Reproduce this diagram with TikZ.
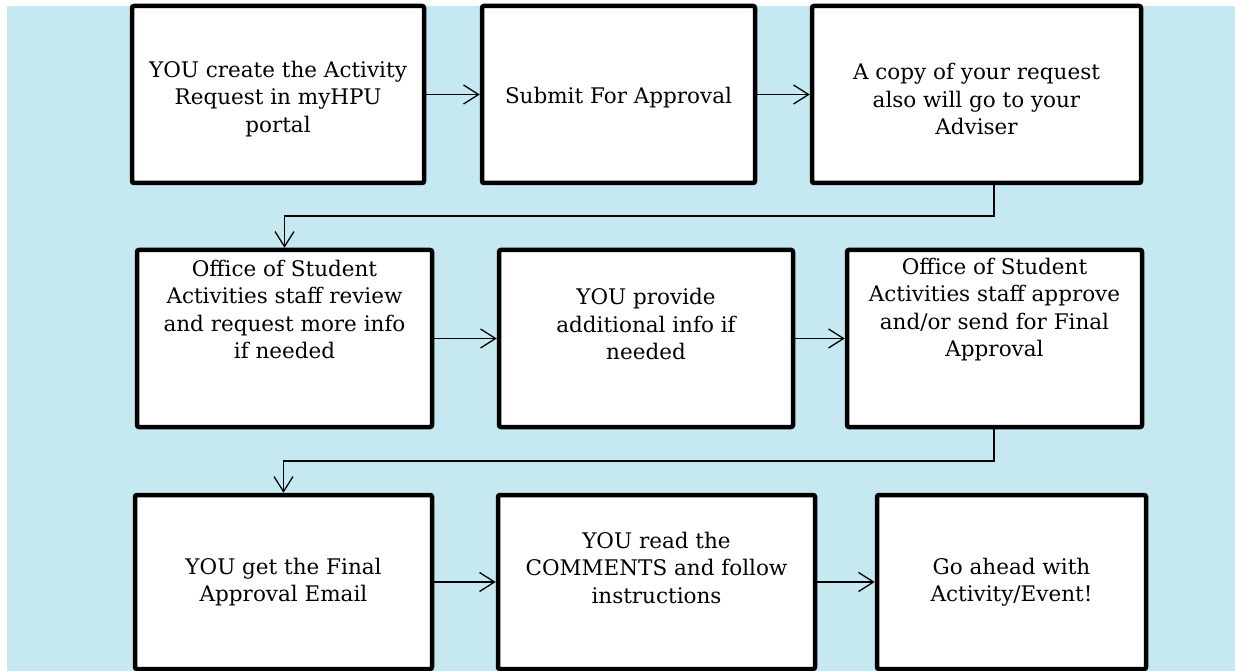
\documentclass[tikz,border=0pt]{standalone}
\usepackage{fontspec}
\setmainfont{DejaVu Serif}
\usetikzlibrary{arrows.meta}
\definecolor{bgblue}{RGB}{198,233,241}
\tikzset{
    stepbox/.style={draw, fill=white, line width=4.5pt, rounded corners=2pt},
    steptext/.style={align=center, inner sep=0pt, font=\fontsize{21.5}{27.5}\selectfont},
    flow/.style={line width=1.3pt, -{Straight Barb[length=15pt, width=19pt, line width=1.3pt]}}
}
\begin{document}
\begin{tikzpicture}[x=1pt, y=-1pt]
                \useasboundingbox (0,0) rectangle (1235,671);
                \fill[bgblue] (7,6) rectangle (1235,671);

                % Nodes
                \node[stepbox, minimum width=292pt, minimum height=177pt] at (278, 94.5) (a1) {};
                \node[stepbox, minimum width=273pt, minimum height=177pt] at (618.5, 94.5) (a2) {};
                \node[stepbox, minimum width=329pt, minimum height=177pt] at (976.5, 94.5) (a3) {};

                \node[stepbox, minimum width=295pt, minimum height=177pt] at (284.5, 338.5) (b1) {};
                \node[stepbox, minimum width=294pt, minimum height=177pt] at (646, 338.5) (b2) {};
                \node[stepbox, minimum width=295pt, minimum height=177pt] at (994.5, 338.5) (b3) {};

                \node[stepbox, minimum width=297pt, minimum height=174pt] at (283.5, 582) (c1) {};
                \node[stepbox, minimum width=317pt, minimum height=174pt] at (656.5, 582) (c2) {};
                \node[stepbox, minimum width=269pt, minimum height=174pt] at (1011.5, 582) (c3) {};

                % Texts
                \node[steptext] at ([yshift=-4.5pt]a1) (a1t) {YOU create the Activity\\Request in myHPU\\portal};
                \node[steptext] at ([yshift=-3pt]a2) (a2t) {Submit For Approval};
                \node[steptext] at ([yshift=-4.5pt]a3) (a3t) {A copy of your request\\also will go to your\\Adviser};

                \node[steptext] at ([yshift=29pt]b1) (b1t) {Office of Student\\Activities staff review\\and request more info\\if needed};
                \node[steptext] at ([yshift=14.5pt]b2) (b2t) {YOU provide\\additional info if\\needed};
                \node[steptext] at ([yshift=29pt]b3) (b3t) {Office of Student\\Activities staff approve\\and/or send for Final\\Approval};

                \node[steptext] at (c1) (c1t) {YOU get the Final\\Approval Email};
                \node[steptext] at ([yshift=14.5pt]c2) (c2t) {YOU read the\\COMMENTS and follow\\instructions};
                \node[steptext] at (c3) (c3t) {Go ahead with\\Activity/Event!};

                \coordinate (turn1) at (994, 216);
                \coordinate (turn2) at (994, 461);

                % Edges
                \draw[flow] (a1) -- (a2);
                \draw[flow] (a2) -- (a3);
                \draw[flow] (a3.south -| turn1) -- (turn1) -| (b1);

                \draw[flow] (b1) -- (b2);
                \draw[flow] (b2) -- (b3);
                \draw[flow] (b3.south -| turn2) -- (turn2) -| (c1);

                \draw[flow] (c1) -- (c2);
                \draw[flow] (c2) -- (c3);
\end{tikzpicture}
\end{document}
